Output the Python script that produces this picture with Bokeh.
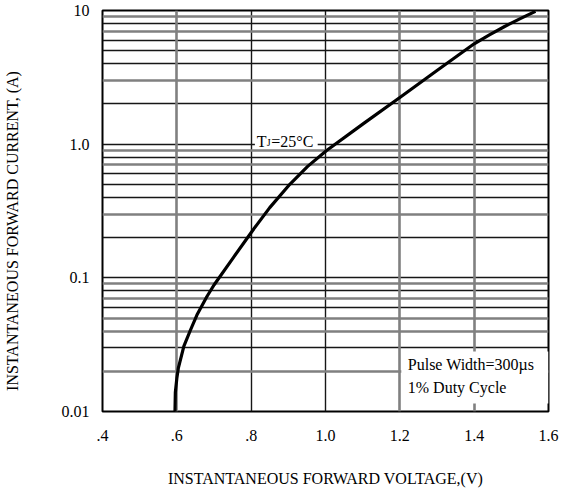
from bokeh.plotting import figure
from bokeh.models import Range1d, FixedTicker, Grid, Label, BoxAnnotation
from bokeh.embed import file_html
from bokeh.resources import INLINE

# ---- data ----
voltage = [0.595, 0.596, 0.600, 0.604, 0.619, 0.637, 0.654, 0.681, 0.700, 0.753,
           0.804, 0.850, 0.904, 0.952, 1.003, 1.102, 1.201, 1.300, 1.400, 1.441,
           1.482, 1.524, 1.565]
current = [0.0100, 0.0139, 0.0177, 0.0211, 0.0308, 0.0409, 0.0527, 0.0725, 0.0884, 0.143,
           0.226, 0.335, 0.501, 0.682, 0.897, 1.425, 2.246, 3.557, 5.634, 6.574,
           7.592, 8.688, 9.847]

x_ticks = [0.4, 0.6, 0.8, 1.0, 1.2, 1.4, 1.6]
x_tick_labels = [".4", ".6", ".8", "1.0", "1.2", "1.4", "1.6"]
y_ticks = [0.01, 0.1, 1.0, 10.0]
y_tick_labels = ["0.01", "0.1", "1.0", "10"]

x_grid_dark = [0.8, 1.0]
x_grid_gray = [0.6, 1.2, 1.4, 1.6]
y_grid_dark = [0.03, 0.06, 0.08, 0.1, 0.2, 0.4, 0.5, 0.6, 0.8, 1.0,
               2, 4, 5, 6, 8, 10]
y_grid_gray = [0.02, 0.04, 0.05, 0.07, 0.09, 0.3, 0.7, 0.9,
               3, 7, 9]

x_title = "INSTANTANEOUS FORWARD VOLTAGE,(V)"
y_title = "INSTANTANEOUS FORWARD CURRENT, (A)"
# trailing no-break spaces shift the centred vertical title down, as in the original
y_title_padded = y_title + "\u00a0" * 10

FONT = "Liberation Serif"
DARK = "#161616"
GRAY = "#808080"

p = figure(width=563, height=489,
           x_range=Range1d(0.4, 1.6), y_range=Range1d(0.01, 10),
           y_axis_type="log", output_backend="svg", toolbar_location=None,
           min_border_left=100, min_border_right=15,
           min_border_top=10, min_border_bottom=78)

p.background_fill_color = "white"
p.border_fill_color = "white"
p.outline_line_color = "black"
p.outline_line_width = 2

# axes
p.xaxis.ticker = FixedTicker(ticks=x_ticks)
p.xaxis.major_label_overrides = dict(zip(x_ticks, x_tick_labels))
p.yaxis.ticker = FixedTicker(ticks=y_ticks)
p.yaxis.major_label_overrides = dict(zip(y_ticks, y_tick_labels))
for ax in p.axis:
    ax.axis_line_color = None
    ax.major_tick_line_color = None
    ax.minor_tick_line_color = None
    ax.major_label_text_font = FONT
    ax.major_label_text_font_size = "16px"
    ax.major_label_text_color = "black"
    ax.axis_label_text_font = FONT
    ax.axis_label_text_font_size = "16px"
    ax.axis_label_text_font_style = "normal"
    ax.axis_label_text_color = "black"
p.xaxis.major_label_standoff = 12
p.yaxis.major_label_standoff = 7

p.xaxis.axis_label = x_title
p.xaxis.axis_label_standoff = 26
p.yaxis.axis_label = y_title_padded
p.yaxis.axis_label_standoff = 38

# grids
p.xgrid.ticker = FixedTicker(ticks=x_grid_dark)
p.xgrid.grid_line_color = DARK
p.xgrid.grid_line_width = 1.4
p.ygrid.ticker = FixedTicker(ticks=y_grid_dark)
p.ygrid.grid_line_color = DARK
p.ygrid.grid_line_width = 1.4
p.add_layout(Grid(dimension=0, ticker=FixedTicker(ticks=x_grid_gray),
                  grid_line_color=GRAY, grid_line_width=2.6))
p.add_layout(Grid(dimension=1, ticker=FixedTicker(ticks=y_grid_gray),
                  grid_line_color=GRAY, grid_line_width=2.4))

# white backgrounds behind annotations
p.add_layout(BoxAnnotation(left=0.81, right=0.979, bottom=0.955, top=1.33,
                           fill_color="white", fill_alpha=1.0, line_color=None,
                           level="underlay"))
p.add_layout(BoxAnnotation(left=1.204, right=1.6, bottom=0.0115, top=0.0281,
                           fill_color="white", fill_alpha=1.0, line_color=None,
                           level="underlay"))

# curve
p.line(voltage, current, line_width=3.2, line_color="black", line_join="round")

# annotations
lab_kw = dict(text_font=FONT, text_font_size="16px", text_color="black")
p.add_layout(Label(x=0.815, y=1.046, text="T", text_baseline="alphabetic", **lab_kw))
p.add_layout(Label(x=0.815, y=1.046, x_offset=10, y_offset=-1, text="J",
                   text_baseline="alphabetic", text_font=FONT,
                   text_font_size="10px", text_color="black"))
p.add_layout(Label(x=0.815, y=1.046, x_offset=14.5, text="=25°C",
                   text_baseline="alphabetic", **lab_kw))

p.add_layout(Label(x=1.2214, y=0.02248, text="Pulse Width=300µs",
                   text_baseline="alphabetic", **lab_kw))
p.add_layout(Label(x=1.2214, y=0.01503, text="1% Duty Cycle",
                   text_baseline="alphabetic", **lab_kw))

open("out.html", "w").write(file_html(p, INLINE))
